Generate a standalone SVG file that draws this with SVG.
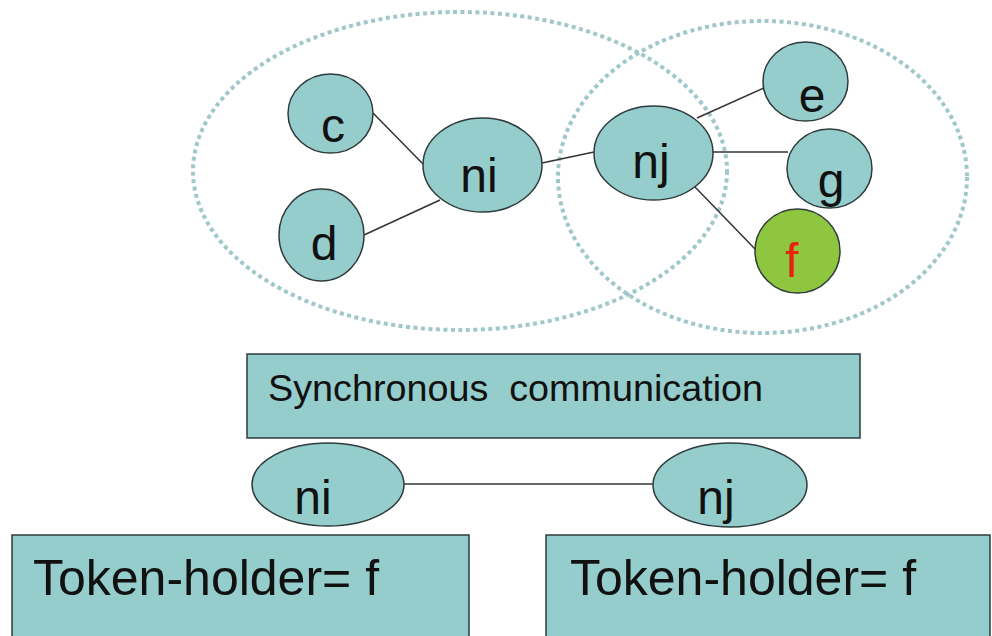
<svg xmlns="http://www.w3.org/2000/svg" width="992" height="636" viewBox="0 0 992 636">
  <style>
    .node { fill: #95CCCC; stroke: #2F3B3B; stroke-width: 1.5; }
    .token { fill: #8EC63F; stroke: #2F3B3B; stroke-width: 1.5; }
    .edge { stroke: #333333; stroke-width: 1.5; fill: none; }
    .scope { fill: none; stroke: #A0C8CA; stroke-width: 4; stroke-dasharray: 4 3.5; }
    .lbl { font-family: "Liberation Sans", Arial, sans-serif; font-size: 48px; fill: #111111; text-anchor: middle; }
    .box { font-family: "Liberation Sans", Arial, sans-serif; fill: #111111; }
  </style>
  <rect width="992" height="636" fill="#FFFFFF"/>

  <!-- neighbourhood scopes -->
  <g id="scopes">
    <ellipse class="scope" cx="460" cy="171" rx="267" ry="159"/>
    <ellipse class="scope" cx="762.5" cy="177" rx="204.5" ry="156"/>
  </g>

  <!-- connectors -->
  <g id="connectors">
    <line class="edge" x1="373" y1="113" x2="423" y2="164"/>
    <line class="edge" x1="364" y1="235" x2="440" y2="200"/>
    <line class="edge" x1="542" y1="163" x2="594" y2="152"/>
    <line class="edge" x1="697" y1="118" x2="764" y2="88"/>
    <line class="edge" x1="713" y1="152" x2="788" y2="152"/>
    <line class="edge" x1="695" y1="187" x2="756" y2="250"/>
    <line class="edge" x1="404" y1="484" x2="653" y2="484"/>
  </g>

  <g id="node-c">
    <ellipse class="node" cx="330.5" cy="113.5" rx="42.5" ry="39.5"/>
    <text class="lbl" x="333" y="142">c</text>
  </g>
  <g id="node-d">
    <ellipse class="node" cx="321.5" cy="235" rx="42.5" ry="46"/>
    <text class="lbl" x="324" y="260">d</text>
  </g>
  <g id="node-ni">
    <ellipse class="node" cx="482.5" cy="165" rx="59.5" ry="47"/>
    <text class="lbl" x="479" y="192">ni</text>
  </g>
  <g id="node-nj">
    <ellipse class="node" cx="653.5" cy="153" rx="59.5" ry="47"/>
    <text class="lbl" x="651" y="178">nj</text>
  </g>
  <g id="node-e">
    <ellipse class="node" cx="805.5" cy="81.5" rx="42.5" ry="39.5"/>
    <text class="lbl" x="812" y="112">e</text>
  </g>
  <g id="node-f">
    <ellipse class="token" cx="797.5" cy="251" rx="42.5" ry="42"/>
    <text class="lbl" x="792" y="277" style="fill:#E8220C">f</text>
  </g>
  <g id="node-g">
    <ellipse class="node" cx="829.5" cy="168.5" rx="42.5" ry="39.5"/>
    <text class="lbl" x="831" y="197">g</text>
  </g>

  <g id="sync-box">
    <rect class="node" x="247" y="354" width="613" height="84"/>
    <text class="box" x="268" y="401" font-size="37.5" textLength="495" lengthAdjust="spacingAndGlyphs" xml:space="preserve">Synchronous  communication</text>
  </g>

  <g id="pair-ni">
    <ellipse class="node" cx="328" cy="484.5" rx="76" ry="41.5"/>
    <text class="lbl" x="313" y="514">ni</text>
  </g>
  <g id="pair-nj">
    <ellipse class="node" cx="730" cy="485" rx="77" ry="42"/>
    <text class="lbl" x="716" y="514">nj</text>
  </g>

  <g id="state-ni">
    <rect class="node" x="12" y="535" width="457" height="120"/>
    <text class="box" x="33" y="595" font-size="50">Token-holder= f</text>
  </g>
  <g id="state-nj">
    <rect class="node" x="546" y="535" width="444" height="120"/>
    <text class="box" x="570" y="595" font-size="50">Token-holder= f</text>
  </g>
</svg>
